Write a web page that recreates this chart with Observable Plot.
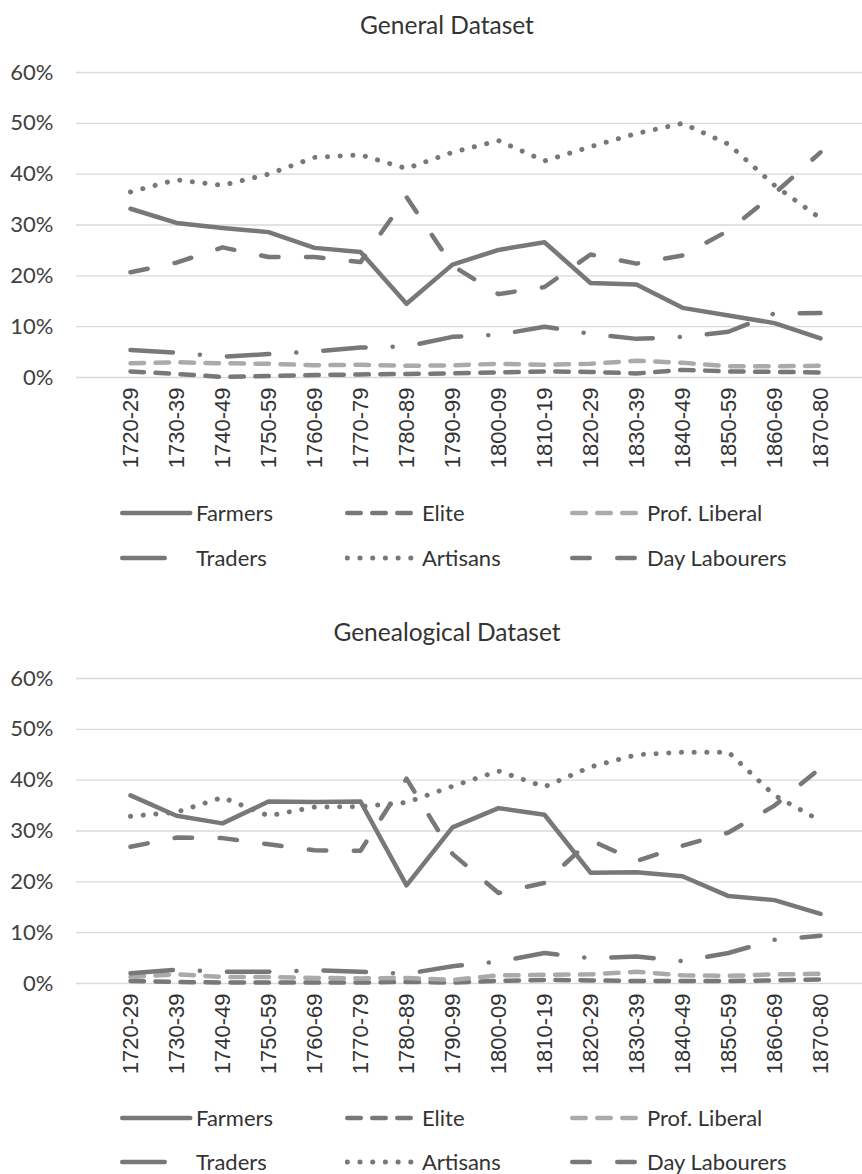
<!DOCTYPE html>
<html><head><meta charset="utf-8">
<script src="https://cdn.jsdelivr.net/npm/d3@7"></script>
<script src="https://cdn.jsdelivr.net/npm/@observablehq/plot@0.6"></script>
<style>
html,body{margin:0;padding:0;background:#fff;overflow:hidden}
#root{position:relative;width:862px;height:1174px;font-family:Lato,sans-serif;color:#333}
.title{position:absolute;left:0;width:894px;text-align:center;font-size:24.5px;line-height:28px}
.panel{position:absolute;left:0}
.leg{position:absolute;height:22px;line-height:22px;font-size:22px;white-space:nowrap}
.leg svg{display:block}
</style></head><body><div id="root"></div>
<script>
const categories = ["1720-29","1730-39","1740-49","1750-59","1760-69","1770-79","1780-89","1790-99","1800-09","1810-19","1820-29","1830-39","1840-49","1850-59","1860-69","1870-80"];
const seriesNames = ["Farmers","Elite","Prof. Liberal","Traders","Artisans","Day Labourers"];
const yTicks = [0, 0.1, 0.2, 0.3, 0.4, 0.5, 0.6];
const panelTitles = ["General Dataset", "Genealogical Dataset"];

// General Dataset (percent)
const generalFarmers      = [33.2, 30.4, 29.4, 28.6, 25.5, 24.7, 14.5, 22.2, 25.1, 26.6, 18.6, 18.3, 13.7, 12.2, 10.7, 7.7];
const generalElite        = [1.2, 0.7, 0.1, 0.3, 0.5, 0.6, 0.7, 0.8, 1.0, 1.2, 1.1, 0.8, 1.5, 1.2, 1.1, 1.0];
const generalProfLiberal  = [2.8, 3.0, 2.8, 2.7, 2.4, 2.5, 2.3, 2.4, 2.7, 2.5, 2.7, 3.3, 2.9, 2.2, 2.2, 2.3];
const generalTraders      = [5.4, 4.9, 4.1, 4.6, 5.1, 5.9, 6.1, 8.0, 8.4, 10.0, 8.6, 7.6, 8.0, 9.0, 12.6, 12.7];
const generalArtisans     = [36.5, 38.9, 37.8, 40.0, 43.3, 43.8, 41.1, 44.3, 46.6, 42.6, 45.4, 48.0, 50.0, 45.9, 37.8, 31.3];
const generalDayLabourers = [20.7, 22.6, 25.6, 23.7, 23.7, 22.7, 35.5, 22.0, 16.4, 17.8, 24.2, 22.4, 24.0, 28.9, 36.2, 44.3];

// Genealogical Dataset (percent)
const genealFarmers      = [37.0, 33.0, 31.5, 35.8, 35.7, 35.8, 19.3, 30.7, 34.5, 33.2, 21.8, 21.9, 21.1, 17.2, 16.4, 13.7];
const genealElite        = [0.5, 0.3, 0.2, 0.2, 0.2, 0.2, 0.3, 0.2, 0.5, 0.7, 0.6, 0.5, 0.5, 0.5, 0.6, 0.8];
const genealProfLiberal  = [1.3, 1.8, 1.3, 1.3, 1.1, 1.0, 1.1, 0.7, 1.6, 1.7, 1.8, 2.3, 1.6, 1.5, 1.8, 1.9];
const genealTraders      = [2.0, 2.7, 2.3, 2.3, 2.6, 2.3, 1.9, 3.4, 4.3, 6.0, 5.0, 5.3, 4.4, 6.0, 8.6, 9.4];
const genealArtisans     = [32.9, 33.7, 36.6, 33.0, 34.7, 34.8, 35.6, 38.8, 41.8, 38.7, 42.6, 45.0, 45.5, 45.5, 37.0, 32.0];
const genealDayLabourers = [26.9, 28.7, 28.6, 27.4, 26.2, 26.1, 40.3, 25.5, 17.8, 19.8, 28.2, 24.1, 27.1, 29.7, 35.0, 42.4];

const generalValues = [generalFarmers, generalElite, generalProfLiberal, generalTraders, generalArtisans, generalDayLabourers];
const genealValues  = [genealFarmers, genealElite, genealProfLiberal, genealTraders, genealArtisans, genealDayLabourers];

const lineStyles = [
  {color: "#787878", dash: null, w: 4.5},
  {color: "#787878", dash: "13.5 11.5", w: 4.5},
  {color: "#aaaaaa", dash: "13.5 11.5", w: 4.5},
  {color: "#787878", dash: "42.5 27 0.1 27", w: 4.5},
  {color: "#787878", dash: "0.1 12.6", w: 5},
  {color: "#787878", dash: "17.5 27.5", w: 4.5}
];

function makePanel(values) {
  const data = seriesNames.flatMap((s, i) => categories.map((c, j) => ({series: s, cat: c, value: values[i][j] / 100})));
  const marks = [
    Plot.gridY({ticks: yTicks, stroke: "#d9d9d9", strokeOpacity: 1, strokeWidth: 1.3}),
    Plot.axisY({ticks: yTicks, tickFormat: d3.format(".0%"), tickSize: 0, tickPadding: 23, fontSize: 22, fontFamily: "Lato", fill: "#404040", label: null}),
    Plot.axisX({tickRotate: -90, tickSize: 0, tickPadding: 10, fontSize: 22, fontFamily: "Liberation Sans", fill: "#333", label: null}),
    ...seriesNames.map((s, i) => Plot.line(data.filter(d => d.series === s), {
      x: "cat", y: "value", stroke: lineStyles[i].color, strokeWidth: lineStyles[i].w,
      strokeDasharray: lineStyles[i].dash || undefined, strokeLinecap: "round", strokeLinejoin: "round"
    }))
  ];
  return Plot.plot({
    width: 862, height: 430, marginTop: 22, marginBottom: 103, marginLeft: 76, marginRight: 0,
    x: {type: "point", domain: categories, range: [100, 850], label: null},
    y: {domain: [0, 0.6], label: null},
    style: {fontFamily: "Lato", color: "#333", background: "transparent", overflow: "visible"},
    marks
  });
}

const root = document.getElementById("root");
const layout = [
  {titleY: 25, svgTop: 50, legendRows: [513, 558]},
  {titleY: 632, svgTop: 656, legendRows: [1118, 1162]}
];
const legendCols = [{sx: 120, tx: 196}, {sx: 345, tx: 422}, {sx: 570, tx: 647}];

[generalValues, genealValues].forEach((vals, p) => {
  const L = layout[p];
  const t = document.createElement("div");
  t.className = "title";
  t.style.top = (L.titleY - 14) + "px";
  t.textContent = panelTitles[p];
  root.appendChild(t);

  const wrap = document.createElement("div");
  wrap.className = "panel";
  wrap.style.top = L.svgTop + "px";
  wrap.appendChild(makePanel(vals));
  root.appendChild(wrap);

  seriesNames.forEach((s, i) => {
    const row = Math.floor(i / 3), col = i % 3;
    const st = lineStyles[i];
    const cy = L.legendRows[row];
    const sw = document.createElementNS("http://www.w3.org/2000/svg", "svg");
    sw.setAttribute("width", 76); sw.setAttribute("height", 12);
    sw.style.position = "absolute";
    sw.style.left = legendCols[col].sx + "px";
    sw.style.top = (cy - 6) + "px";
    const ln = document.createElementNS("http://www.w3.org/2000/svg", "line");
    ln.setAttribute("x1", 2.25); ln.setAttribute("x2", 70.25);
    ln.setAttribute("y1", 6); ln.setAttribute("y2", 6);
    ln.setAttribute("stroke", st.color); ln.setAttribute("stroke-width", st.w);
    ln.setAttribute("stroke-linecap", "round");
    if (st.dash) ln.setAttribute("stroke-dasharray", st.dash);
    sw.appendChild(ln);
    root.appendChild(sw);
    const tx = document.createElement("div");
    tx.className = "leg";
    tx.style.left = legendCols[col].tx + "px";
    tx.style.top = (cy - 11) + "px";
    tx.textContent = s;
    root.appendChild(tx);
  });
});
</script></body></html>
